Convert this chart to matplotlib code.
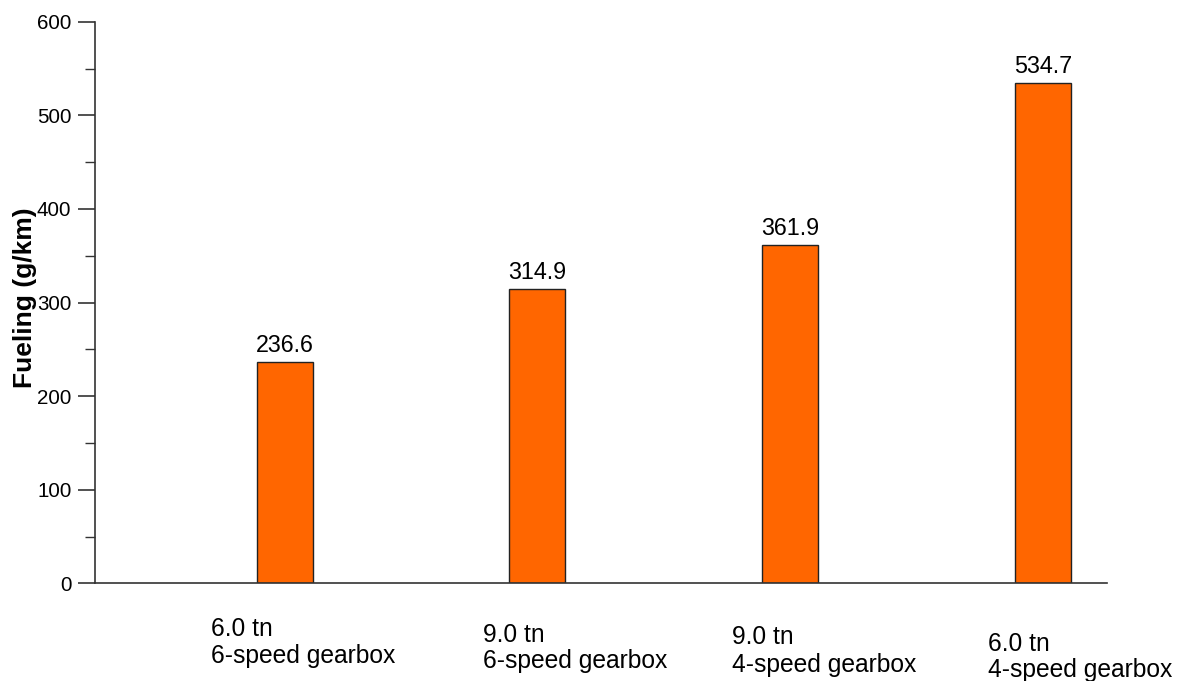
import matplotlib
matplotlib.use("Agg")
import matplotlib.pyplot as plt
from matplotlib import transforms

plt.rcParams['font.family'] = ['Liberation Sans', 'DejaVu Sans']

# Data
tonnage = ["6.0 tn", "9.0 tn", "9.0 tn", "6.0 tn"]
gearbox = ["6-speed gearbox", "6-speed gearbox", "4-speed gearbox", "4-speed gearbox"]
fueling = [236.6, 314.9, 361.9, 534.7]

# Label placement (pixels): horizontal shift from bar centre, baseline depth below axis
label_dx = [-73.5, -54, -58, -55]
label_dy1 = [52.7, 58.7, 60.7, 67.7]
label_dy2 = [79.7, 84.7, 88.7, 93.7]

W, H, DPI = 1187, 681, 100
fig = plt.figure(figsize=(W / DPI, H / DPI), dpi=DPI)
left, right = 95 / W, 1107 / W
bottom, top = (H - 583.3) / H, (H - 21.7) / H
ax = fig.add_axes([left, bottom, right - left, top - bottom])

x = list(range(len(fueling)))
bars = ax.bar(x, fueling, width=0.2215, color="#FF6600",
              edgecolor="#222222", linewidth=1.0, zorder=2)

ax.set_xlim(-0.75, 3.253)
ax.set_ylim(0, 600)
ax.set_yticks(range(0, 601, 100))
ax.set_yticks(range(50, 600, 100), minor=True)
ax.tick_params(axis='y', which='major', length=12, width=1.2, direction='out',
               labelsize=14.8, pad=5, color="#333333")
ax.tick_params(axis='y', which='minor', length=7, width=1.0, direction='out',
               color="#333333")
ax.set_xticks([])

for side in ("top", "right"):
    ax.spines[side].set_visible(False)
for side in ("left", "bottom"):
    ax.spines[side].set_linewidth(1.2)
    ax.spines[side].set_color("#333333")

# Value labels above each bar
for xi, v in zip(x, fueling):
    ax.annotate(f"{v:.1f}", xy=(xi, v), xytext=(0, 3.5), textcoords="offset points",
                ha="center", va="bottom", fontsize=16.8)

# Two-line category labels below the axis
for xi, t, g, dx, d1, d2 in zip(x, tonnage, gearbox, label_dx, label_dy1, label_dy2):
    base = transforms.blended_transform_factory(ax.transData, ax.transAxes)
    tr1 = transforms.offset_copy(base, fig=fig, x=dx, y=-d1, units='dots')
    tr2 = transforms.offset_copy(base, fig=fig, x=dx, y=-d2, units='dots')
    ax.text(xi, 0, t, transform=tr1, ha="left", va="baseline", fontsize=17.75,
            clip_on=False)
    ax.text(xi, 0, g, transform=tr2, ha="left", va="baseline", fontsize=17.75,
            clip_on=False)

fig.text(25 / W, 1 - 298 / H, "Fueling (g/km)", rotation=90, ha="center",
         va="center", fontsize=19, fontweight="bold")

fig.savefig("out.png", dpi=DPI, facecolor="white")
